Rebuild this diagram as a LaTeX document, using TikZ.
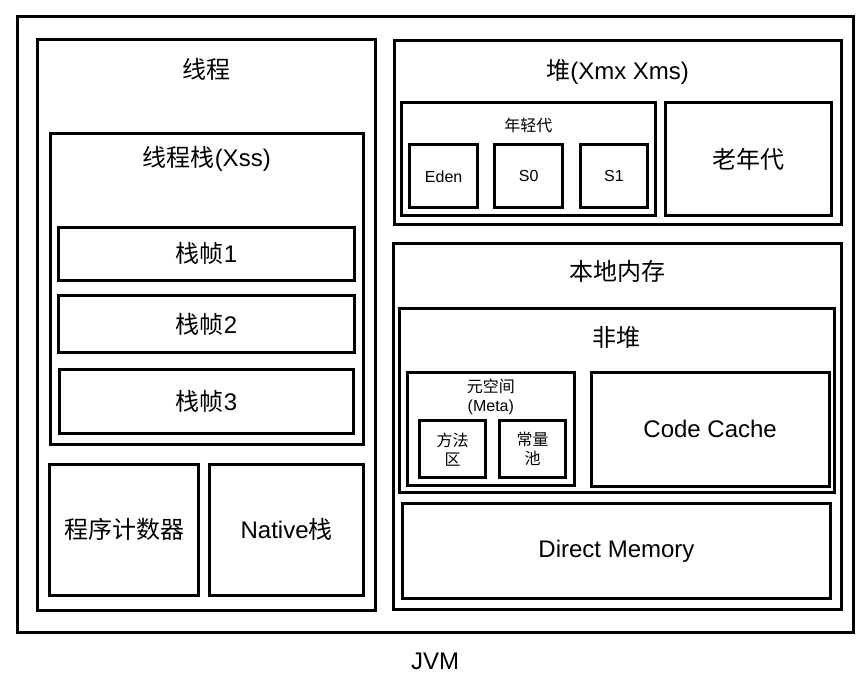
\documentclass[tikz,border=0pt]{standalone}
\usepackage{fontspec}
\setmainfont{Liberation Sans}
\newfontfamily\cjk{Noto Sans CJK SC}
\usetikzlibrary{positioning}

\begin{document}
\begin{tikzpicture}[x=1pt, y=-1pt, block/.style = {draw, line width=3pt, inner sep=0pt}, large/.style = {font=\fontsize{24}{28}\selectfont}, small/.style = {font=\fontsize{16}{19}\selectfont, align=center}]
    \useasboundingbox (0,0) rectangle (865,680);
    % JVM
    \node[block, minimum width=836pt, minimum height=616.3pt] (jvm) at (435,324.7) {};
    \node[large] (jvmtitle) at (435,661) {JVM};
    % thread side
    \node[block, minimum width=338pt, minimum height=570.5pt] (thread) at (206.5,324.75) {};
    \node[large] (threadtitle) at ([yshift=-31.5pt]thread.north) {\cjk 线程};
    \node[block, minimum width=312.5pt, minimum height=311.7pt] (stack) at (206.75,288.85) {};
    \node[large] (stacktitle) at ([yshift=-27pt]stack.north) {{\cjk 线程栈}(Xss)};
    \node[block, large, minimum width=295.6pt, minimum height=53.7pt] (frame1) at (206.5,253.85) {{\cjk 栈帧}1};
    \node[block, large, minimum width=295.8pt, minimum height=57pt, below=12pt of frame1] (frame2) {{\cjk 栈帧}2};
    \node[block, large, minimum width=294.8pt, minimum height=64pt, below=13.3pt of frame2] (frame3) {{\cjk 栈帧}3};
    \node[block, large, minimum width=149.3pt, minimum height=131pt] (pc) at (124.15,529.5) {\cjk 程序计数器};
    \node[block, large, minimum width=154.3pt, minimum height=131pt] (native) at (286.65,529.5) {Native{\cjk 栈}};
    % heap
    \node[block, minimum width=447.3pt, minimum height=184.4pt] (heap) at (617.65,132.5) {};
    \node[large] (heaptitle) at ([yshift=-33pt]heap.north) {{\cjk 堆}(Xmx Xms)};
    \node[block, minimum width=254.2pt, minimum height=113.4pt] (young) at (528.4,159) {};
    \node[small] (youngtitle) at ([yshift=-24.5pt]young.north) {\cjk 年轻代};
    \node[block, small, minimum width=68.3pt, minimum height=63pt] (eden) at (443.65,176.3) {Eden};
    \node[block, small, minimum width=68.3pt, minimum height=63pt, right=13.7pt of eden] (s0) {S0};
    \node[block, small, minimum width=66.8pt, minimum height=63pt, right=14.7pt of s0] (s1) {S1};
    \node[block, large, minimum width=165.6pt, minimum height=113.4pt] (old) at (748.5,159) {\cjk 老年代};
    % native memory
    \node[block, minimum width=448.3pt, minimum height=366.5pt] (local) at (617.15,426.25) {};
    \node[large] (localtitle) at ([yshift=-30pt]local.north) {\cjk 本地内存};
    \node[block, minimum width=434.3pt, minimum height=183.6pt] (nonheap) at (616.85,400.5) {};
    \node[large] (nonheaptitle) at ([yshift=-30pt]nonheap.north) {\cjk 非堆};
    \node[block, minimum width=167.3pt, minimum height=113.5pt] (meta) at (490.85,428.75) {};
    \node[small] (metatitle) at ([yshift=-26.5pt]meta.north) {{\cjk 元空间}\\(Meta)};
    \node[block, small, minimum width=66.3pt, minimum height=57.1pt] (method) at (452.65,449.25) {\cjk 方法\\\cjk 区};
    \node[block, small, minimum width=66pt, minimum height=57.1pt] (pool) at (532.5,449.25) {\cjk 常量\\\cjk 池};
    \node[block, large, minimum width=237.7pt, minimum height=114.5pt] (code) at (710.15,429.25) {Code Cache};
    \node[block, large, minimum width=428.6pt, minimum height=95.7pt] (direct) at (616.5,550.85) {Direct Memory};
\end{tikzpicture}
\end{document}
